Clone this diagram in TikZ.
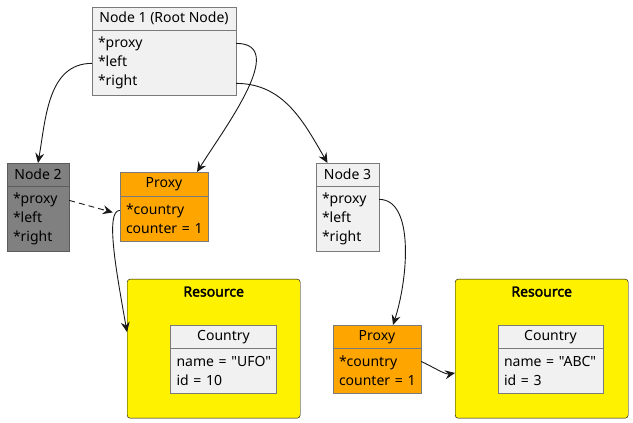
\documentclass[tikz,border=0pt]{standalone}
\usepackage{fontspec}
\setmainfont{Noto Sans}[Ligatures=TeXOff, BoldFont={Noto Sans}, BoldFeatures={FakeBold=2.5}]
\usetikzlibrary{positioning,arrows.meta}

\definecolor{classbg}{HTML}{F1F1F1}
\definecolor{linegray}{HTML}{7A7A7A}
\definecolor{nodegray}{HTML}{808080}
\definecolor{darkborder}{HTML}{5C5C5C}
\definecolor{proxyorange}{HTML}{FFA500}
\definecolor{linkcol}{HTML}{181818}

\tikzset{
  every node/.style={font=\fontsize{14}{19}\selectfont},
  hdr/.style={draw=linegray, fill=classbg, inner sep=0pt, minimum height=23pt, anchor=north},
  fields/.style={draw=linegray, fill=classbg, align=left, inner xsep=6pt, inner ysep=0pt},
  gray/.style={fill=nodegray, draw=darkborder},
  proxy/.style={fill=proxyorange},
  resource/.style={draw=black, fill=yellow, rounded corners=3pt, anchor=north west, inner sep=0pt},
  title/.style={font=\fontsize{14}{19}\selectfont\bfseries},
  link/.style={draw=linkcol, line width=0.9pt, -{Stealth[length=10pt,width=9pt,inset=3.5pt]}}
}

\begin{document}
\begin{tikzpicture}[x=1pt, y=1pt]
\useasboundingbox (0,0) rectangle (633,423);

%% root node
\node[hdr, minimum width=144pt] (n1_head) at (164,416) {Node 1 (Root Node)};
\node[fields, text width=132pt, minimum height=65pt, below=0pt of n1_head] (n1_body) {*proxy\\{}*left\\{}*right};

%% left and right children
\node[hdr, gray, minimum width=62pt] (n2_head) at (38,260) {Node 2};
\node[fields, gray, text width=50pt, minimum height=65pt, below=0pt of n2_head] (n2_body) {*proxy\\{}*left\\{}*right};

\node[hdr, minimum width=63pt] (n3_head) at (347.5,260) {Node 3};
\node[fields, text width=51pt, minimum height=65pt, below=0pt of n3_head] (n3_body) {*proxy\\{}*left\\{}*right};

%% proxies
\node[hdr, proxy, minimum width=88pt, minimum height=24pt] (p1_head) at (164,251) {Proxy};
\node[fields, proxy, text width=76pt, minimum height=45pt, below=0pt of p1_head] (p1_body) {*country\\counter~=~1};

\node[hdr, proxy, minimum width=88pt] (p2_head) at (377,98) {Proxy};
\node[fields, proxy, text width=76pt, minimum height=45pt, below=0pt of p2_head] (p2_body) {*country\\counter~=~1};

%% resources
\node[resource, minimum width=173pt, minimum height=139pt] (r1) at (127,144) {};
\node[title, below=4pt of r1.north] (r1_title) {Resource};
\node[hdr, minimum width=106pt] (c1_head) at (223.5,98) {Country};
\node[fields, text width=94pt, minimum height=45pt, below=0pt of c1_head] (c1_body) {name~=~"UFO"\\id~=~10};

\node[resource, minimum width=173pt, minimum height=139pt] (r2) at (455,144) {};
\node[title, below=4pt of r2.north] (r2_title) {Resource};
\node[hdr, minimum width=105pt] (c2_head) at (550.5,98) {Country};
\node[fields, text width=93pt, minimum height=45pt, below=0pt of c2_head] (c2_body) {name~=~"ABC"\\id~=~3};

%% field anchors
\coordinate (n1_proxy) at ([yshift=-13pt]n1_body.north east);
\coordinate (n1_left) at ([yshift=-33pt]n1_body.north west);
\coordinate (n1_right) at ([yshift=-53pt]n1_body.north east);
\coordinate (n2_proxy) at ([yshift=-14pt]n2_body.north east);
\coordinate (n3_proxy) at ([yshift=-13pt]n3_body.north east);
\coordinate (p1_country) at ([yshift=-14pt]p1_body.north west);
\coordinate (p2_country) at ([yshift=-13pt]p2_body.north east);

\coordinate (p1_top) at ([xshift=33pt]p1_head.north);
\coordinate (p1_in) at ([xshift=-7pt, yshift=-16pt]p1_body.north west);
\coordinate (n3_top) at ([xshift=-20pt]n3_head.north);
\coordinate (p2_top) at ([xshift=16pt]p2_head.north);
\coordinate (r1_in) at ([yshift=-53pt]r1.north west);
\coordinate (r2_in) at ([yshift=-94pt]r2.north west);

%% links
\draw[link] (n1_left) to[out=180, in=80] (n2_head.north);
\draw[link] (n1_proxy) to[out=0, in=58] (p1_top);
\draw[link] (n1_right) to[out=0, in=120] (n3_top);
\draw[link, dash pattern=on 6pt off 4pt] (n2_proxy) -- (p1_in);
\draw[link] (p1_country) to[out=180, in=100, out distance=15pt, in distance=60pt] (r1_in);
\draw[link] (n3_proxy) to[out=0, in=72, out distance=35pt, in distance=50pt] (p2_top);
\draw[link] (p2_country) to[out=-25, in=190, out distance=12pt, in distance=10pt] (r2_in);

\end{tikzpicture}
\end{document}
